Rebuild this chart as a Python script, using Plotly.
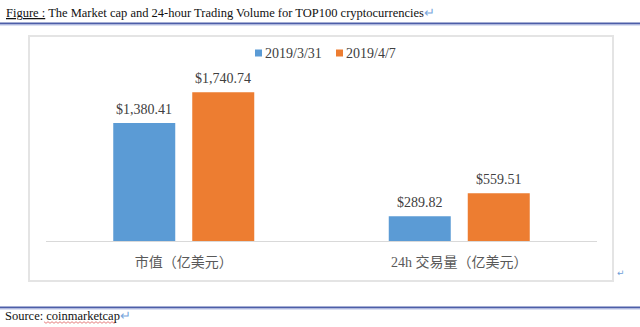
import plotly.graph_objects as go

# Data
categories = ["市值（亿美元）", "24h 交易量（亿美元）"]
series_names = ["2019/3/31", "2019/4/7"]
values_0331 = [1380.41, 289.82]
values_0407 = [1740.74, 559.51]
colors = ["#5B9BD5", "#ED7D31"]

title_text = "The Market cap and 24-hour Trading Volume for TOP100 cryptocurrencies"
source_text = "coinmarketcap"

W, H = 640, 327
L, R, T, B = 46, 597, 70, 241  # plot area in pixels
SLOT = 79  # pixel width of one bar slot inside a group
CAT_W = (R - L) / len(categories)  # pixel width of one category band


def fx(px):
    return (px - L) / (R - L)


def fy(py):
    return (B - py) / (B - T)


SERIF = "Liberation Serif, Times New Roman, Noto Sans CJK SC, serif"

fig = go.Figure()
annotations = []
for i, (name, vals, col) in enumerate(zip(series_names, [values_0331, values_0407], colors)):
    fig.add_trace(go.Bar(
        name=name,
        x=categories,
        y=vals,
        marker=dict(color=col, line=dict(width=0)),
        showlegend=False,
    ))
    # value labels above each bar
    offset = (i - 0.5) * SLOT
    for c, v in zip(categories, vals):
        annotations.append(dict(
            x=c, y=v, xref="x", yref="y", xshift=offset, yshift=4,
            xanchor="center", yanchor="bottom", showarrow=False,
            text=f"${v:,.2f}",
            font=dict(family=SERIF, size=14, color="#404040"),
        ))

# legend drawn as small squares with labels
legend_sq_x = [255, 336]
shapes = []
for name, col, sx in zip(series_names, colors, legend_sq_x):
    shapes.append(dict(type="rect", xref="paper", yref="paper",
                       x0=fx(sx), x1=fx(sx + 7), y0=fy(56.5), y1=fy(49.5),
                       fillcolor=col, line=dict(width=0)))
    annotations.append(dict(xref="paper", yref="paper", x=fx(sx + 8), y=fy(53),
                            xanchor="left", yanchor="middle", showarrow=False,
                            text=name, font=dict(family=SERIF, size=14, color="#404040")))

shapes += [
    # chart frame
    dict(type="rect", xref="paper", yref="paper",
         x0=fx(29), x1=fx(613), y0=fy(281), y1=fy(36),
         line=dict(color="#e4e4e4", width=2), layer="below"),
    # header rule
    dict(type="line", xref="paper", yref="paper",
         x0=fx(0), x1=fx(640), y0=fy(23.5), y1=fy(23.5),
         line=dict(color="#4d5ea8", width=2)),
    dict(type="line", xref="paper", yref="paper",
         x0=fx(0), x1=fx(640), y0=fy(25), y1=fy(25),
         line=dict(color="#b8c2e6", width=1)),
    # footer rule
    dict(type="line", xref="paper", yref="paper",
         x0=fx(0), x1=fx(640), y0=fy(307.5), y1=fy(307.5),
         line=dict(color="#4d5ea8", width=2)),
    dict(type="line", xref="paper", yref="paper",
         x0=fx(0), x1=fx(640), y0=fy(309), y1=fy(309),
         line=dict(color="#b8c2e6", width=1)),
]

# wavy spell-check underline under the source name
wx0, wx1, wy = 44, 116, 322.5
pts = []
x = wx0
up = True
while x <= wx1:
    pts.append((fx(x), fy(wy - 0.8 if up else wy + 0.8)))
    up = not up
    x += 2
path = "M " + " L ".join(f"{a:.5f},{b:.5f}" for a, b in pts)
shapes.append(dict(type="path", xref="paper", yref="paper", path=path,
                   line=dict(color="#e06060", width=0.8)))

annotations += [
    dict(xref="paper", yref="paper", x=fx(4), y=fy(13), xanchor="left", yanchor="middle",
         showarrow=False,
         text=('<span style="text-decoration:underline">Figure :</span> ' + title_text
               + '<span style="color:#7aa7dc">↵</span>'),
         font=dict(family=SERIF, size=12.5, color="#111111")),
    dict(xref="paper", yref="paper", x=fx(3), y=fy(316), xanchor="left", yanchor="middle",
         showarrow=False,
         text='Source: ' + source_text + '<span style="color:#7aa7dc">↵</span>',
         font=dict(family=SERIF, size=12.5, color="#111111")),
    dict(xref="paper", yref="paper", x=fx(621), y=fy(273), xanchor="center", yanchor="middle",
         showarrow=False, text="↵",
         font=dict(family="DejaVu Sans", size=9, color="#6f9fd8")),
]

fig.update_layout(
    width=W, height=H,
    margin=dict(l=L, r=W - R, t=T, b=H - B, pad=0),
    paper_bgcolor="white",
    plot_bgcolor="white",
    barmode="group",
    bargap=1 - 2 * SLOT / CAT_W,
    bargroupgap=17 / SLOT,
    showlegend=False,
    xaxis=dict(showline=True, linecolor="#d9d9d9", linewidth=1, showgrid=False,
               ticks="", tickfont=dict(family=SERIF, size=14, color="#595959"),
               ticklabelstandoff=8, fixedrange=True),
    yaxis=dict(visible=False, range=[0, 2000], showgrid=False, zeroline=False, fixedrange=True),
    shapes=shapes,
    annotations=annotations,
    font=dict(family=SERIF),
)

fig.write_html("out.html", config={"displayModeBar": False})
